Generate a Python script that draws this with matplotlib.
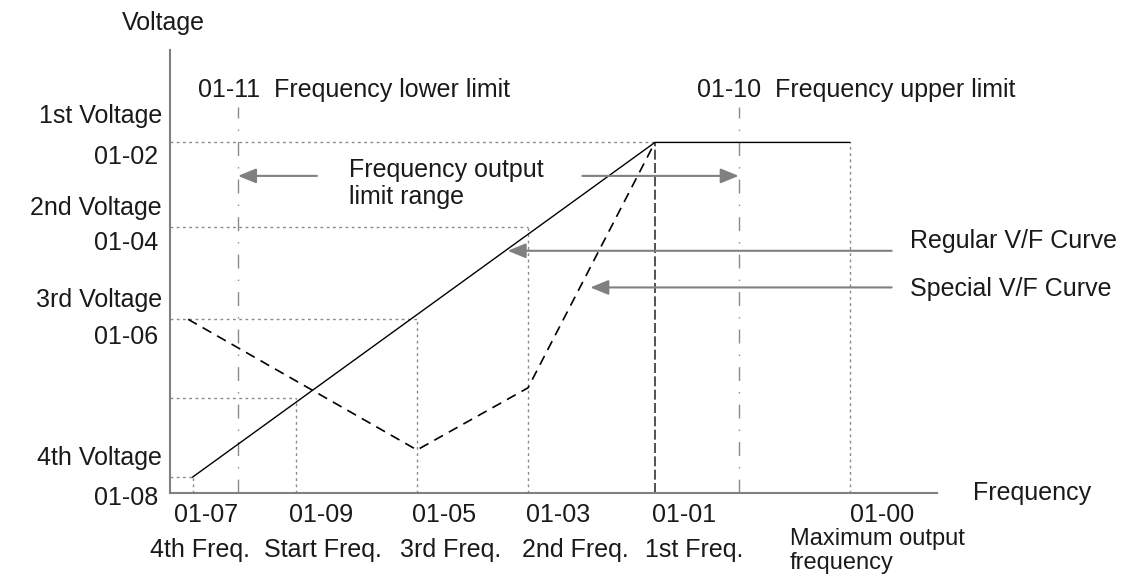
import matplotlib
matplotlib.use("Agg")
import matplotlib.pyplot as plt

plt.rcParams['font.family'] = ['Liberation Sans', 'DejaVu Sans']

# frequencies (arbitrary units, 01-00 = 60)
f4 = 2.0        # 01-07 4th freq
f_start = 11.1  # 01-09 start freq
f3 = 21.8       # 01-05 3rd freq
f2 = 31.6       # 01-03 2nd freq
f1 = 42.8       # 01-01 1st freq
f_max = 60.0    # 01-00 max output freq
f_low = 6.0     # 01-11 lower limit
f_up = 50.2     # 01-10 upper limit

# voltages (arbitrary units)
v1 = 220
v2 = 167
v3 = 109
v4 = 10
v_start = 59.5

regular_f = [f4, f1, f_max]
regular_v = [v4, v1, v1]

special_f = [1.6, f3, f2, f1]
special_v = [v3, 27, 66, v1]

ylabels = [("1st Voltage", "01-02"), ("2nd Voltage", "01-04"),
           ("3rd Voltage", "01-06"), ("4th Voltage", "01-08")]
xcodes = ["01-07", "01-09", "01-05", "01-03", "01-01", "01-00"]
xnames = ["4th Freq.", "Start Freq.", "3rd Freq.", "2nd Freq.", "1st Freq."]

W, H = 1121, 578
fig = plt.figure(figsize=(W / 100, H / 100), dpi=100)
ax = fig.add_axes([170 / W, (H - 493) / H, (937 - 170) / W, (493 - 50) / H])
ax.set_xlim(0, 67.7)
ax.set_ylim(0, 278)
for s in ['top', 'right']:
    ax.spines[s].set_visible(False)
for s in ['left', 'bottom']:
    ax.spines[s].set_color('#808080')
    ax.spines[s].set_linewidth(1.5)
ax.set_xticks([])
ax.set_yticks([])

dot = dict(color='#8a8a8a', lw=1.0, ls=(0, (2, 2.5)))
# dotted guide lines
ax.plot([0, f1], [v1, v1], **dot)
ax.plot([0, f2], [v2, v2], **dot)
ax.plot([0, f3], [v3, v3], **dot)
ax.plot([0, f_start], [v_start, v_start], **dot)
ax.plot([0, f4], [v4, v4], **dot)
ax.plot([f4, f4], [0, v4], **dot)
ax.plot([f_start, f_start], [0, v_start], **dot)
ax.plot([f3, f3], [0, v3], **dot)
ax.plot([f2, f2], [0, v2], **dot)
ax.plot([f_max, f_max], [0, v1], **dot)

# limit lines (dash-dot)
dd = dict(color='#8a8a8a', lw=1.0, ls=(0, (10, 8, 1, 8)))
ax.plot([f_low, f_low], [0, 242], **dd)
ax.plot([f_up, f_up], [0, 242], **dd)

# 1st freq dashed vertical
ax.plot([f1, f1], [0, v1], color='#333333', lw=1.2, ls=(0, (6, 2)))

# curves
ax.plot(regular_f, regular_v, color='black', lw=1.0)
ax.plot(special_f, special_v, color='black', lw=1.2, ls=(0, (6, 4)))

arrow = dict(arrowstyle='-|>,head_length=1.1,head_width=0.45', color='#808080',
             lw=1.5, shrinkA=0, shrinkB=0)
ax.annotate('', xy=(f_low, 199), xytext=(12.97, 199), arrowprops=arrow)
ax.annotate('', xy=(f_up, 199), xytext=(36.4, 199), arrowprops=arrow)
ax.annotate('', xy=(29.8, 152), xytext=(63.7, 152), arrowprops=arrow)
ax.annotate('', xy=(37.1, 129), xytext=(63.7, 129), arrowprops=arrow)


def txt(x, y, s, ha='left', va='center', size=18):
    fig.text(x / W, 1 - y / H, s, ha=ha, va=va, fontsize=size, color='#1a1a1a')


txt(163, 23, "Voltage", ha='center')
txt(973, 493, "Frequency")
txt(198, 90, "01-11  Frequency lower limit")
txt(697, 90, "01-10  Frequency upper limit")
txt(349, 170, "Frequency output")
txt(349, 197, "limit range")
txt(910, 241, "Regular V/F Curve")
txt(910, 289, "Special V/F Curve")

ylab_pos = [(116, 157), (208, 243), (300, 337), (458, 498)]
for (a, b), (ya, yb) in zip(ylabels, ylab_pos):
    txt(162, ya, a, ha='right')
    txt(158, yb, b, ha='right')

xcode_pos = [206, 321, 444, 558, 684, 882]
for s, x in zip(xcodes, xcode_pos):
    txt(x, 515, s, ha='center')
xname_pos = [200, 323, 451, 575, 694]
for s, x in zip(xnames, xname_pos):
    txt(x, 550, s, ha='center')
txt(790, 539, "Maximum output", size=17)
txt(790, 563, "frequency", size=17)

fig.savefig("out.png", dpi=100)
